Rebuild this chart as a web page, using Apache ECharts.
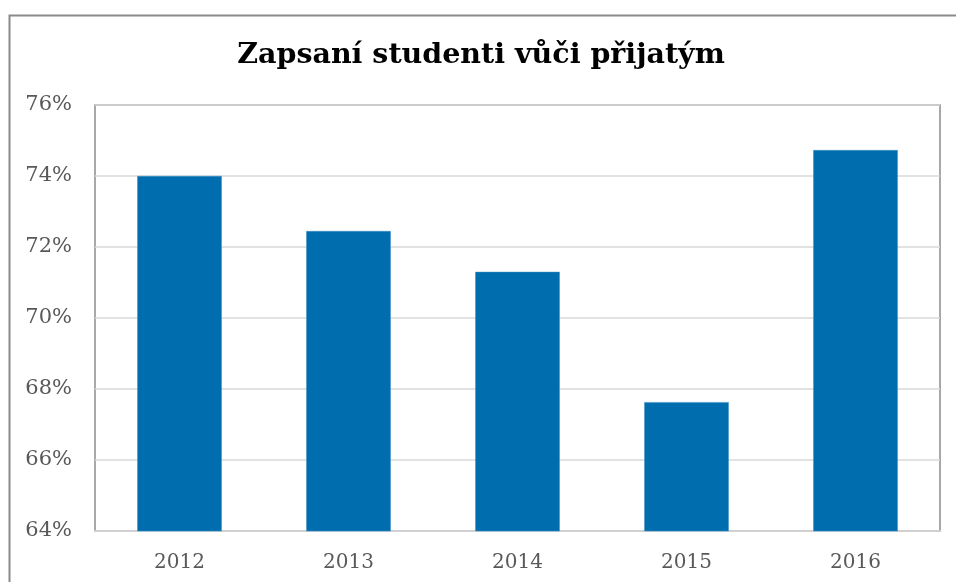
<!DOCTYPE html>
<html>
<head>
<meta charset="utf-8">
<script src="https://cdn.jsdelivr.net/npm/echarts@6/dist/echarts.min.js"></script>
<style>
html, body { margin: 0; padding: 0; background: #fff; }
#main { width: 956px; height: 582px; }
</style>
</head>
<body>
<div id="main"></div>
<script>
var years = ['2012', '2013', '2014', '2015', '2016'];
var enrolled = [74.0, 72.45, 71.3, 67.63, 74.73];
var yMin = 64, yMax = 76, yStep = 2;

var chart = echarts.init(document.getElementById('main'));
var option = {
    backgroundColor: '#fff',
    title: {
        text: 'Zapsaní studenti vůči přijatým',
        left: 476,
        textAlign: 'center',
        top: 36,
        textStyle: {
            fontFamily: 'DejaVu Serif',
            fontWeight: 'bold',
            fontSize: 28.5,
            color: '#000'
        }
    },
    graphic: [{
        type: 'rect',
        shape: { x: 9.5, y: 15.5, width: 960, height: 600 },
        style: { fill: 'none', stroke: '#8a8a8a', lineWidth: 2 },
        silent: true
    }],
    grid: {
        left: 95,
        top: 105,
        right: 16,
        bottom: 51,
        show: true,
        borderColor: '#8c8c8c',
        borderWidth: 1.5
    },
    xAxis: {
        type: 'category',
        data: years,
        axisTick: { show: false },
        axisLine: { lineStyle: { color: '#d0d0d0', width: 2 } },
        axisLabel: {
            margin: 22,
            fontFamily: 'DejaVu Serif',
            fontSize: 20,
            color: '#595959'
        }
    },
    yAxis: {
        type: 'value',
        min: yMin,
        max: yMax,
        interval: yStep,
        axisLine: { show: false },
        axisTick: { show: false },
        splitLine: { lineStyle: { color: '#d9d9d9', width: 1.5 } },
        axisLabel: {
            margin: 23,
            fontFamily: 'DejaVu Serif',
            fontSize: 21,
            color: '#595959',
            formatter: '{value}%'
        }
    },
    series: [{
        type: 'bar',
        data: enrolled,
        barWidth: '50%',
        itemStyle: {
            color: '#006eae',
            borderColor: '#3a8fc4',
            borderWidth: 0.5
        }
    }]
};
chart.setOption(option);
</script>
</body>
</html>
